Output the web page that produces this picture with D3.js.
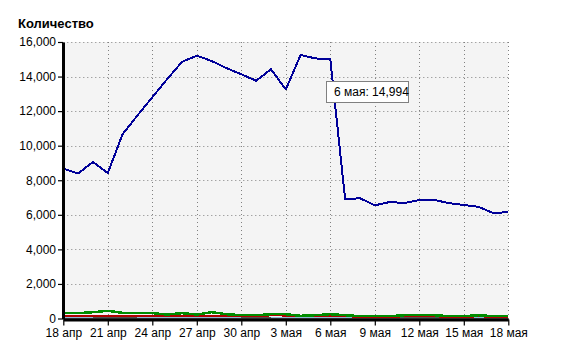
<!DOCTYPE html>
<html>
<head>
<meta charset="utf-8">
<script src="https://cdn.jsdelivr.net/npm/d3@7"></script>
<style>
  body { margin: 0; background: #fff; }
  svg text { font-family: "Liberation Sans", Arial, sans-serif; }
</style>
</head>
<body>
<div id="chart"></div>
<script>
// dates shown on the x axis (one per day)
var days = ["2010-04-18","2010-04-19","2010-04-20","2010-04-21","2010-04-22","2010-04-23",
  "2010-04-24","2010-04-25","2010-04-26","2010-04-27","2010-04-28","2010-04-29","2010-04-30",
  "2010-05-01","2010-05-02","2010-05-03","2010-05-04","2010-05-05","2010-05-06","2010-05-07",
  "2010-05-08","2010-05-09","2010-05-10","2010-05-11","2010-05-12","2010-05-13","2010-05-14",
  "2010-05-15","2010-05-16","2010-05-17","2010-05-18"];

// main series (blue)
var blueValues = [8680, 8390, 9060, 8420, 10670, 11750, 12800, 13850, 14850, 15210, 14900,
  14490, 14130, 13760, 14420, 13260, 15250, 15050, 14994, 6900, 6960, 6550, 6740, 6680,
  6860, 6860, 6680, 6570, 6460, 6100, 6160];

// small series near zero
var greenValues = [310, 310, 365, 445, 330, 310, 310, 230, 310, 230, 365, 250, 190, 190,
  250, 250, 155, 190, 250, 190, 135, 135, 135, 190, 190, 190, 135, 135, 190, 135, 135];
var redValues = [130, 130, 130, 130, 130, 130, 130, 130, 130, 130, 130, 130, 130, 130,
  180, 170, 120, 140, 170, 150, 75, 75, 75, 135, 135, 135, 75, 75, 135, 75, 75];
var grayValues = [0, 0, 0, 35, 35, 0, 0, 0, 0, 0, 0, 0, 0, 35, 0, 0, 0, 0, 0, 0, 0, 0,
  0, 35, 0, 35, 35, 0, 0, 0, 0];
var lightBlueValues = [25, 25, 25, 25, 25, 25, 25, 25, 25, 25, 25, 25, 25, 25, 25, 25,
  25, 25, 25, 25, 25, 25, 25, 25, 25, 25, 25, 25, 25, 25, 25];

var yTicks = [0, 2000, 4000, 6000, 8000, 10000, 12000, 14000, 16000];
var xTickDays = ["2010-04-18","2010-04-21","2010-04-24","2010-04-27","2010-04-30","2010-05-03",
  "2010-05-06","2010-05-09","2010-05-12","2010-05-15","2010-05-18"];
var xTickLabels = ["18 апр","21 апр","24 апр","27 апр","30 апр","3 мая","6 мая","9 мая",
  "12 мая","15 мая","18 мая"];

var title = "Количество";
var tipIndex = 18;
var tipText = "6 мая: 14,994";

function init() {
  var w = 573, h = 347;
  var left = 63.3, right = 508.3, top = 42, bottom = 318.5;

  var parse = d3.timeParse("%Y-%m-%d");
  var dates = days.map(parse);
  var tickDates = xTickDays.map(parse);

  var x = d3.scaleTime()
    .domain([dates[0], dates[dates.length - 1]])
    .range([left, right]);
  var y = d3.scaleLinear()
    .domain([0, 16000])
    .range([bottom, top]);

  var svg = d3.select("#chart").append("svg")
    .attr("width", w)
    .attr("height", h);

  // plot background
  svg.append("rect")
    .attr("x", left).attr("y", top)
    .attr("width", right - left).attr("height", bottom - top)
    .attr("fill", "#f4f4f4");

  // dotted grid
  svg.append("g").selectAll("line")
    .data(yTicks.slice(1))
    .enter().append("line")
    .attr("x1", left).attr("x2", right)
    .attr("y1", function(d) { return Math.round(y(d)) + 0.5; })
    .attr("y2", function(d) { return Math.round(y(d)) + 0.5; })
    .attr("stroke", "#808080")
    .attr("stroke-dasharray", "1,3");
  svg.append("g").selectAll("line")
    .data(tickDates.slice(1))
    .enter().append("line")
    .attr("x1", function(d) { return Math.round(x(d)) + 0.5; })
    .attr("x2", function(d) { return Math.round(x(d)) + 0.5; })
    .attr("y1", top).attr("y2", bottom)
    .attr("stroke", "#808080")
    .attr("stroke-dasharray", "1,3");

  var line = d3.line()
    .x(function(d, i) { return x(dates[i]); })
    .y(function(d) { return y(d); });

  var series = [
    { values: lightBlueValues, color: "#8fb8d8", width: 2 },
    { values: grayValues, color: "#505050", width: 2 },
    { values: redValues, color: "#b00000", width: 2 },
    { values: greenValues, color: "#008c00", width: 2.5 },
    { values: blueValues, color: "#000099", width: 2 }
  ];

  svg.append("g").selectAll("path")
    .data(series)
    .enter().append("path")
    .attr("d", function(d) { return line(d.values); })
    .attr("fill", "none")
    .attr("stroke", function(d) { return d.color; })
    .attr("stroke-width", function(d) { return d.width; })
    .attr("stroke-linejoin", "round")
    .style("shape-rendering", "crispEdges");

  // axes
  var xAxis = svg.append("g")
    .attr("transform", "translate(0," + (bottom + 1) + ")")
    .call(d3.axisBottom(x)
      .tickValues(tickDates)
      .tickSize(6)
      .tickSizeOuter(0)
      .tickPadding(3)
      .tickFormat(function(d, i) { return xTickLabels[i]; }));

  var yAxis = svg.append("g")
    .attr("transform", "translate(" + (left - 0.3) + ",0)")
    .call(d3.axisLeft(y)
      .tickValues(yTicks)
      .tickSize(5)
      .tickSizeOuter(0)
      .tickPadding(2)
      .tickFormat(d3.format(",")));

  [xAxis, yAxis].forEach(function(a) {
    a.select(".domain").attr("stroke", "#000").attr("stroke-width", 3);
    a.selectAll(".tick line").attr("stroke", "#000").attr("stroke-width", 1.2);
    a.selectAll("text")
      .attr("fill", "#000")
      .style("font-size", "12px")
      .style("font-family", "'Liberation Sans', Arial, sans-serif");
  });

  // title
  svg.append("text")
    .attr("x", 18).attr("y", 28)
    .style("font-size", "13px")
    .style("font-weight", "bold")
    .text(title);

  // tooltip box
  var tx = x(dates[tipIndex]), ty = y(blueValues[tipIndex]);
  var tip = svg.append("g")
    .attr("transform", "translate(" + Math.round(tx - 4.5) + "," + Math.round(ty + 22) + ")");
  tip.append("rect")
    .attr("x", 0.5).attr("y", 0.5)
    .attr("width", 82).attr("height", 21)
    .attr("fill", "#fff")
    .attr("stroke", "#808080");
  tip.append("text")
    .attr("x", 8).attr("y", 15)
    .style("font-size", "12px")
    .text(tipText);
}
window.onload = init;
</script>
</body>
</html>
